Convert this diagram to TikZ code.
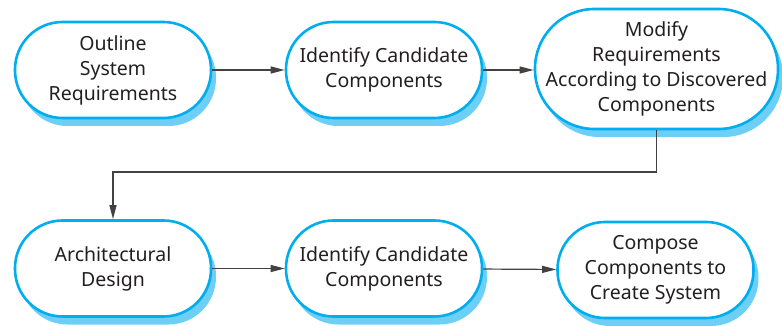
\documentclass[tikz,border=0pt]{standalone}
\usepackage{fontspec}
\setmainfont{Noto Sans}
\usepackage{tikz}
\usetikzlibrary{arrows.meta, shadows}
\definecolor{stageedge}{RGB}{0,174,239}
\definecolor{stageshade}{RGB}{109,207,246}
\definecolor{inktext}{RGB}{35,31,32}

\begin{document}
\begin{tikzpicture}[x=1pt, y=-1pt,
  stage/.style={rectangle, draw=stageedge, line width=2.6pt, fill=white,
    inner sep=0pt, align=center, text=inktext,
    font=\fontsize{19.5}{25}\selectfont,
    minimum width=196pt, minimum height=96pt, rounded corners=47.5pt,
    drop shadow={shadow xshift=5pt, shadow yshift=-8pt, fill=stageshade, opacity=1}},
  bigstage/.style={stage, minimum width=243pt, minimum height=120pt, rounded corners=59.5pt},
  flow/.style={draw=inktext!85, line width=1.2pt, -{Triangle[length=14pt, width=7pt]}},
]
  \useasboundingbox (0,0) rectangle (782,326);

  % Top row
  \node[stage] (outline) at (113,70) {Outline\\System\\Requirements};
  \node[stage] (identA) at (384,70) {Identify Candidate\\Components};
  \node[bigstage] (modify) at (656.5,69) {Modify\\Requirements\\According to Discovered\\Components};

  % Bottom row
  \node[stage] (arch) at (113,268.5) {Architectural\\Design};
  \node[stage] (identB) at (384,268.5) {Identify Candidate\\Components};
  \node[stage] (compose) at (655.5,270) {Compose\\Components to\\Create System};

  % Connectors
  \coordinate (bend) at (113,172);
  \draw[flow] (outline) -- (identA);
  \draw[flow] (identA) -- (modify.west |- identA);
  \draw[flow] (modify.south) |- (bend) -- (arch.north);
  \draw[flow] (arch) -- (identB);
  \draw[flow] (identB) -- (compose);
\end{tikzpicture}
\end{document}
